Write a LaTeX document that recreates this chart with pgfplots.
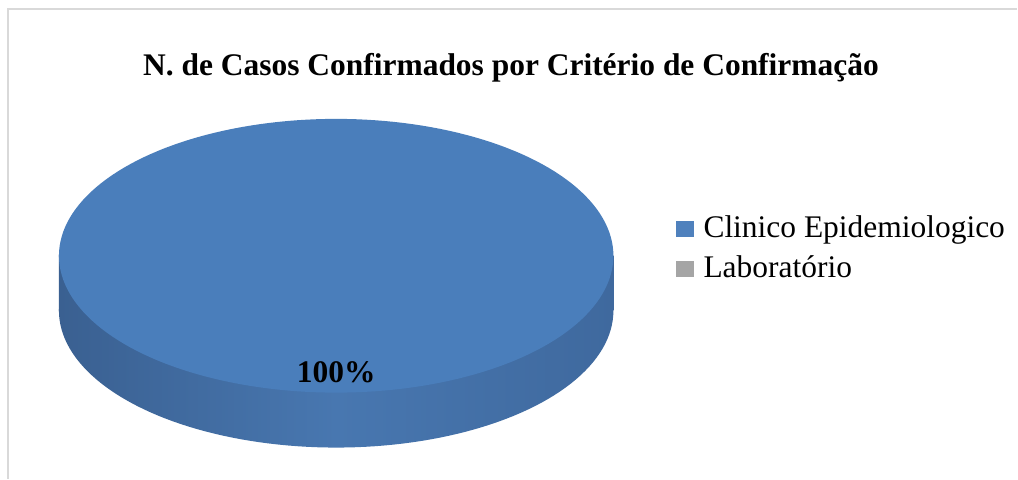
\documentclass[border=0pt]{standalone}
\usepackage{fontspec}
\setmainfont{Liberation Serif}
\usepackage{pgfplots}
\usepackage{pgfplotstable}
\pgfplotsset{compat=1.18}
\definecolor{topblue}{RGB}{74,126,187}
\definecolor{legblue}{RGB}{79,129,189}
\definecolor{sideL}{RGB}{58,96,145}
\definecolor{sideM}{RGB}{72,119,176}
\definecolor{sideR}{RGB}{63,105,158}
\definecolor{leggray}{RGB}{165,165,165}
\definecolor{frame}{RGB}{217,217,217}
\pgfplotstableread{
cat value
Clinico 100
Laboratorio 0
}\piedata
\pgfplotstablegetelem{0}{value}\of\piedata
\let\valA\pgfplotsretval
\pgfplotstablegetelem{1}{value}\of\piedata
\let\valB\pgfplotsretval
\pgfmathsetmacro{\fracA}{\valA/(\valA+\valB)}
\pgfmathsetmacro{\angA}{360*\fracA}
\pgfmathsetmacro{\pctA}{int(round(100*\fracA))}
\begin{document}
\begin{tikzpicture}
\begin{axis}[
  width=1018bp, height=479bp, scale only axis, hide axis,
  xmin=0, xmax=1018, ymin=0, ymax=479, clip=false,
]
\path (axis cs:0,0) rectangle (axis cs:1018,479);
% frame
\draw[frame, line width=2pt] (axis cs:8,0) -- (axis cs:8,470) -- (axis cs:1018,470);
% side of the 3D pie
\addplot[draw=none, left color=sideL, right color=sideR, middle color=sideM, samples=181, domain=0:\angA, variable=\t]
  ({336.5+277.5*cos(t)},{168+137*sin(t)}) -- cycle;
\addplot[draw=none, left color=sideL, right color=sideR, middle color=sideM]
  coordinates {(59,168) (614,168) (614,223) (59,223)} -- cycle;
% top face
\addplot[draw=none, fill=topblue, samples=181, domain=0:\angA, variable=\t]
  ({336.5+277.5*cos(t)},{223+137*sin(t)}) -- cycle;
% label
\node[anchor=base, inner sep=0pt, font=\fontsize{31.6}{38}\selectfont\bfseries] at (axis cs:336.5,96) {\pctA\%};
% title
\node[anchor=base, inner sep=0pt, font=\fontsize{31.6}{38}\selectfont\bfseries] at (axis cs:511.5,403)
  {N. de Casos Confirmados por Critério de Confirmação};
% legend
\fill[legblue] (axis cs:677,242) rectangle (axis cs:695,258);
\fill[leggray] (axis cs:677,202) rectangle (axis cs:695,218);
\node[anchor=base west, inner sep=0pt, font=\fontsize{31.6}{38}\selectfont] at (axis cs:704,241) {Clinico Epidemiologico};
\node[anchor=base west, inner sep=0pt, font=\fontsize{31.6}{38}\selectfont] at (axis cs:704,201) {Laboratório};
\end{axis}
\end{tikzpicture}
\end{document}
